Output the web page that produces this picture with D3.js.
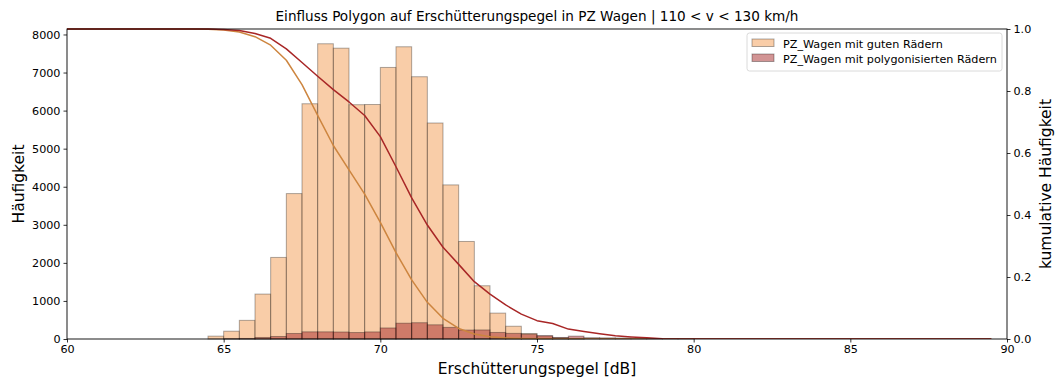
<!DOCTYPE html>
<html>
<head>
<meta charset="utf-8">
<script src="https://cdn.jsdelivr.net/npm/d3@7"></script>
<style>
  body { margin: 0; background: #fff; }
  svg { display: block; }
  text { font-family: "DejaVu Sans", sans-serif; fill: #000; }
</style>
</head>
<body>
<svg id="chart" width="1057" height="380"></svg>
<script>
// Histogram bins (left edges, dB) with counts for both wagon groups
const binLefts = [64.5, 65, 65.5, 66, 66.5, 67, 67.5, 68, 68.5, 69, 69.5, 70, 70.5, 71, 71.5,
                  72, 72.5, 73, 73.5, 74, 74.5, 75, 75.5, 76, 76.5, 77, 77.5, 78, 78.5, 79, 79.5];
const goodCounts = [75, 205, 490, 1180, 2143, 3820, 6180, 7756, 7640, 6155, 6160, 7134, 7677, 6890, 5674,
                    4048, 2562, 1399, 680, 335, 145, 75, 30, 12, 0, 0, 0, 0, 0, 0, 0];
const polyCounts = [0, 8, 14, 40, 66, 145, 188, 188, 184, 170, 186, 290, 415, 428, 373,
                    305, 236, 238, 172, 148, 126, 90, 40, 76, 34, 30, 26, 17, 13, 12, 4];
const seriesNames = ["PZ_Wagen mit guten Rädern", "PZ_Wagen mit polygonisierten Rädern"];
const xTicks = [60, 65, 70, 75, 80, 85, 90];
const yTicks = [0, 1000, 2000, 3000, 4000, 5000, 6000, 7000, 8000];
const cumTicks = [0, 0.2, 0.4, 0.6, 0.8, 1.0];
const binWidth = 0.5;
const xRange = [60, 90];

const titleText = "Einfluss Polygon auf Erschütterungspegel in PZ Wagen | 110 < v < 130 km/h";
const xLabel = "Erschütterungspegel [dB]";
const yLabel = "Häufigkeit";
const y2Label = "kumulative Häufigkeit";

const plot = { left: 67, right: 1007, top: 29, bottom: 339 };

const svg = d3.select("#chart");

const x = d3.scaleLinear().domain(xRange).range([plot.left, plot.right]);
const yMax = d3.max(goodCounts.concat(polyCounts)) * 1.05;
const y = d3.scaleLinear().domain([0, yMax]).range([plot.bottom, plot.top]);
const y2 = d3.scaleLinear().domain([0, 1]).range([plot.bottom, plot.top]);

const styles = [
  { fill: "rgba(244,164,96,0.55)", line: "#cd853f" },
  { fill: "rgba(165,42,42,0.5)",  line: "#a82626" }
];
const edgeColor = "rgba(0,0,0,0.32)";

const clipId = "plotClip";
svg.append("clipPath").attr("id", clipId).append("rect")
  .attr("x", plot.left).attr("y", plot.top - 1)
  .attr("width", plot.right - plot.left).attr("height", plot.bottom - plot.top + 1);

// Bars
[goodCounts, polyCounts].forEach((counts, si) => {
  svg.append("g").selectAll("rect")
    .data(binLefts.map((b, i) => ({ b, c: counts[i] })).filter(d => d.c > 0))
    .join("rect")
    .attr("x", d => x(d.b))
    .attr("width", d => x(d.b + binWidth) - x(d.b))
    .attr("y", d => y(d.c))
    .attr("height", d => y(0) - y(d.c))
    .attr("fill", styles[si].fill)
    .attr("stroke", edgeColor)
    .attr("stroke-width", 1);
});

// Exceedance curves: 1 - cumulative share, plotted at bin left edges
const allEdges = d3.range(xRange[0], xRange[1], binWidth);
function exceedance(counts) {
  const byBin = new Map(binLefts.map((b, i) => [b, counts[i]]));
  const total = d3.sum(counts);
  let acc = 0;
  return allEdges.map(e => {
    acc += byBin.get(e) || 0;
    return { e, v: 1 - acc / total };
  });
}
const lineGen = d3.line().x(d => x(d.e)).y(d => y2(d.v));
const curvesG = svg.append("g").attr("clip-path", `url(#${clipId})`);
[goodCounts, polyCounts].forEach((counts, si) => {
  curvesG.append("path")
    .datum(exceedance(counts))
    .attr("d", lineGen)
    .attr("fill", "none")
    .attr("stroke", styles[si].line)
    .attr("stroke-width", 1.5)
    .attr("stroke-linejoin", "round");
});

// Frame
svg.append("rect")
  .attr("x", plot.left).attr("y", plot.top)
  .attr("width", plot.right - plot.left).attr("height", plot.bottom - plot.top)
  .attr("fill", "none").attr("stroke", "#000").attr("stroke-width", 0.9);

// Axes
const tickFont = "11.2px";
const xAxis = svg.append("g").attr("transform", `translate(0,${plot.bottom})`)
  .call(d3.axisBottom(x).tickValues(xTicks).tickFormat(d3.format("d")).tickSize(3.5).tickPadding(3));
const yAxis = svg.append("g").attr("transform", `translate(${plot.left},0)`)
  .call(d3.axisLeft(y).tickValues(yTicks).tickFormat(d3.format("d")).tickSize(3.5).tickPadding(3));
const y2Axis = svg.append("g").attr("transform", `translate(${plot.right},0)`)
  .call(d3.axisRight(y2).tickValues(cumTicks).tickFormat(d3.format(".1f")).tickSize(3.5).tickPadding(3));
[xAxis, yAxis, y2Axis].forEach(g => {
  g.select(".domain").remove();
  g.selectAll(".tick line").attr("stroke", "#000").attr("stroke-width", 0.8);
  g.selectAll(".tick text").attr("font-size", tickFont).attr("fill", "#000")
    .style("font-family", '"DejaVu Sans", sans-serif');
});

// Titles
svg.append("text").attr("x", (plot.left + plot.right) / 2).attr("y", 21)
  .attr("text-anchor", "middle").attr("font-size", "13.6px").text(titleText);
svg.append("text").attr("x", (plot.left + plot.right) / 2).attr("y", 374)
  .attr("text-anchor", "middle").attr("font-size", "15.5px").text(xLabel);
svg.append("text").attr("transform", `translate(24,${(plot.top + plot.bottom) / 2}) rotate(-90)`)
  .attr("text-anchor", "middle").attr("font-size", "15.5px").text(yLabel);
svg.append("text").attr("transform", `translate(1051,${(plot.top + plot.bottom) / 2}) rotate(-90)`)
  .attr("text-anchor", "middle").attr("font-size", "15.5px").text(y2Label);

// Legend
const lg = svg.append("g").attr("transform", "translate(747,33)");
lg.append("rect").attr("width", 255).attr("height", 38).attr("rx", 2.5)
  .attr("fill", "rgba(255,255,255,0.8)").attr("stroke", "#d6d6d6").attr("stroke-width", 0.9);
seriesNames.forEach((name, i) => {
  const row = lg.append("g").attr("transform", `translate(5,${6 + i * 15})`);
  row.append("rect").attr("width", 22).attr("height", 7.5)
    .attr("fill", styles[i].fill).attr("stroke", edgeColor).attr("stroke-width", 1);
  row.append("text").attr("x", 31).attr("y", 8.5).attr("font-size", "11.2px").text(name);
});
</script>
</body>
</html>
